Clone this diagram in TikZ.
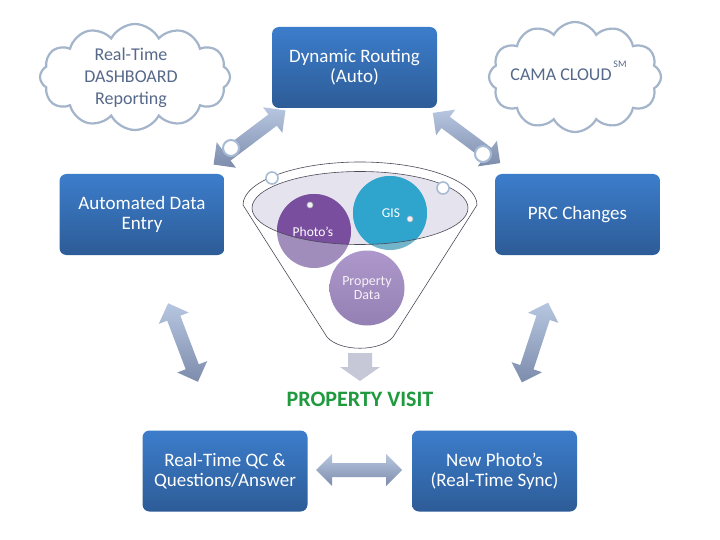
\documentclass[tikz,border=0pt]{standalone}
\usepackage{fontspec}
\setmainfont{Carlito}
\usetikzlibrary{shapes.symbols}
\definecolor{boxtop}{HTML}{3C7DCB}
\definecolor{boxbot}{HTML}{2D5C97}
\definecolor{cloudline}{HTML}{A3B4CB}
\definecolor{cloudtext}{HTML}{56698A}
\definecolor{arrtop}{HTML}{B7C6E0}
\definecolor{arrbot}{HTML}{7D8CAB}
\definecolor{ringline}{HTML}{A8BBD5}
\definecolor{funline}{HTML}{4A4A58}
\definecolor{ellfill}{HTML}{E5E3EE}
\definecolor{photodark}{HTML}{7A4E9E}
\definecolor{photolight}{HTML}{A08DBC}
\definecolor{gisdark}{HTML}{2FA5CD}
\definecolor{gislight}{HTML}{72B5CA}
\definecolor{proptop}{HTML}{AE98CB}
\definecolor{propbot}{HTML}{9580B4}
\definecolor{downarr}{HTML}{C6C8D8}
\definecolor{visit}{HTML}{1F9A3E}
\tikzset{
 bluebox/.style={rectangle, rounded corners=7pt, top color=boxtop, bottom color=boxbot, draw=none,
   minimum width=165pt, minimum height=81pt, text=white, align=center,
   font=\fontsize{19}{20}\selectfont, inner sep=0pt},
 cloudnode/.style={cloud, cloud puffs=12, cloud puff arc=125, draw=cloudline, line width=2.2pt, fill=white},
 cloudtxt/.style={text=cloudtext, align=center, font=\fontsize{18}{22}\selectfont},
 ring/.style={circle, draw=ringline, line width=2pt, fill=white, inner sep=0pt},
 funnelline/.style={draw=funline, line width=0.6pt},
 dot/.style={circle, fill=white!80!ringline, draw=gray!60, line width=0.6pt, inner sep=0pt, minimum size=6pt},
 arrowshade/.style={top color=arrtop, bottom color=arrbot, draw=none},
}
\newcommand\dblarr[3]{%
 \begin{scope}[shift={#1}, rotate=#2]
 \shade[arrowshade] (-#3,0) -- ++(16,16) -- ++(0,-9) -- (#3-16,7) -- ++(0,9) -- (#3,0)
   -- ++(-16,-16) -- ++(0,9) -- (-#3+16,-7) -- ++(0,-9) -- cycle;
 \end{scope}}
\begin{document}
\begin{tikzpicture}[x=1pt,y=1pt]
\useasboundingbox[fill=white] (0,0) rectangle (720,-540);

% clouds
\node[cloudnode, minimum width=190pt, minimum height=106pt] (cloudL) at (135,-77) {};
\node[cloudtxt] (dash) at (131,-78) {Real-Time\\DASHBOARD\\Reporting};
\node[cloudnode, minimum width=172pt, minimum height=110pt] (cloudR) at (575,-77) {};
\node[cloudtxt, anchor=base] (cama) at (561,-81) {CAMA CLOUD};
\node[text=cloudtext, font=\fontsize{10}{11}\selectfont] (sm) at (620,-64) {SM};

% block arrows
\dblarr{(249.5,-137.5)}{37}{45}
\dblarr{(466.5,-138)}{-36.7}{42}
\dblarr{(183,-342.5)}{-69.2}{42}
\dblarr{(535,-342.5)}{71.8}{42}
\dblarr{(359,-470)}{0}{43}
\node[ring, minimum size=16pt] (ringA) at (231,-148) {};
\node[ring, minimum size=16pt] (ringB) at (483,-154) {};

% boxes
\node[bluebox] (routing) at (354.5,-67.5) {Dynamic Routing\\(Auto)};
\node[bluebox] (auto) at (142,-214.5) {Automated Data\\Entry};
\node[bluebox] (prc) at (577.5,-214.5) {PRC Changes};
\node[bluebox] (qc) at (225,-471) {Real-Time QC \&\\Questions/Answer};
\node[bluebox] (newph) at (494.5,-471) {New Photo’s\\(Real-Time Sync)};

% funnel
\draw[funnelline] (243,-205) arc[start angle=180, end angle=0, x radius=117, y radius=43]
  -- (393,-337) .. controls (380,-352) and (340,-352) .. (327,-337) -- cycle;
\fill[ellfill] (360,-208) ellipse[x radius=108, y radius=36.5];
\fill[photolight] (314,-231) circle[radius=37];
\fill[gislight] (390,-213) circle[radius=37];
\begin{scope}
 \clip (360,-208) ellipse[x radius=108, y radius=36.5];
 \fill[photodark] (314,-231) circle[radius=37];
 \fill[gisdark] (390,-213) circle[radius=37];
\end{scope}
\draw[funnelline] (360,-208) ellipse[x radius=108, y radius=36.5];
\shade[top color=proptop, bottom color=propbot] (367,-288) circle[radius=37.5];
\node[text=white, font=\fontsize{13.5}{14}\selectfont] (photos) at (313,-232) {Photo’s};
\node[text=white, font=\fontsize{13.5}{14}\selectfont] (gis) at (391,-213) {GIS};
\node[text=white!94!violet, align=center, font=\fontsize{14}{14.5}\selectfont] (prop) at (367,-288) {Property\\Data};
\node[dot] (dotA) at (310,-205) {};
\node[dot] (dotB) at (410,-219) {};
\node[ring, minimum size=12pt, line width=1.6pt] (ringC) at (272,-178) {};
\node[ring, minimum size=12pt, line width=1.6pt] (ringD) at (443,-188) {};

% down arrow
\fill[downarr] (348,-353) -- (372,-353) -- (372,-367) -- (380,-367) -- (360,-381) -- (340,-367) -- (348,-367) -- cycle;
\node[text=visit, font=\bfseries\fontsize{22}{24}\selectfont] (visit) at (360,-399) {PROPERTY VISIT};
\end{tikzpicture}
\end{document}
